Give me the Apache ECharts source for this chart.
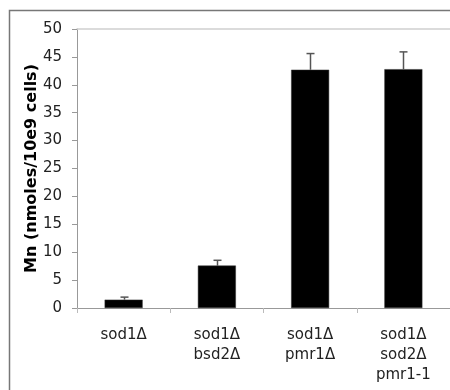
<!DOCTYPE html>
<html><head><meta charset="utf-8">
<script src="https://cdn.jsdelivr.net/npm/echarts@6/dist/echarts.min.js"></script>
<style>html,body{margin:0;padding:0;background:#fff}#c{width:450px;height:390px}</style>
</head><body><div id="c"></div>
<script>
var categories = ['sod1Δ', 'sod1Δ\nbsd2Δ', 'sod1Δ\npmr1Δ', 'sod1Δ\nsod2Δ\npmr1-1'];
var values = [1.5, 7.6, 42.7, 42.8];
var errors = [0.45, 0.95, 2.9, 3.1];
var yTicks = [0, 5, 10, 15, 20, 25, 30, 35, 40, 45, 50];
var yTitle = 'Mn (nmoles/10e9 cells)';

var font = 'DejaVu Sans, Verdana, sans-serif';
var chart = echarts.init(document.getElementById('c'), null, {renderer: 'canvas'});
chart.setOption({
  animation: false,
  backgroundColor: '#fff',
  graphic: [{
    type: 'rect', shape: {x: 9.5, y: 10.5, width: 460, height: 400},
    style: {fill: 'none', stroke: '#777', lineWidth: 1.5}, silent: true, z: 100
  }],
  grid: {left: 77, right: -5, top: 29, bottom: 82, containLabel: false},
  xAxis: [{
    type: 'category', data: categories, position: 'bottom',
    axisLine: {lineStyle: {color: '#999', width: 1}},
    axisTick: {show: true, length: 5, lineStyle: {color: '#bbb'}},
    axisLabel: {color: '#222', fontFamily: font, fontSize: 15, lineHeight: 20, margin: 17, interval: 0}
  }, {
    type: 'category', data: categories, position: 'top',
    axisLine: {lineStyle: {color: '#d0d0d0', width: 1.5}},
    axisTick: {show: false}, axisLabel: {show: false}
  }],
  yAxis: {
    type: 'value', min: yTicks[0], max: yTicks[yTicks.length - 1], interval: 5,
    name: yTitle, nameLocation: 'middle', nameGap: 37, nameRotate: 90, nameMoveOverlap: false,
    nameTextStyle: {fontFamily: font, fontSize: 16, fontWeight: 'bold', color: '#000'},
    axisLine: {show: true, lineStyle: {color: '#999', width: 1}},
    axisTick: {show: true, length: 5, lineStyle: {color: '#999'}},
    axisLabel: {color: '#222', fontFamily: font, fontSize: 15, margin: 15},
    splitLine: {show: false}
  },
  series: [{
    type: 'bar', data: values, barWidth: 38, xAxisIndex: 0,
    itemStyle: {color: '#000', borderColor: '#333', borderWidth: 0.5}
  }, {
    type: 'custom', xAxisIndex: 0, z: 1,
    data: values.map(function (v, i) { return [i, v, v + errors[i]]; }),
    renderItem: function (params, api) {
      var base = api.coord([api.value(0), api.value(1)]);
      var top = api.coord([api.value(0), api.value(2)]);
      var x = Math.round(base[0]) + 0.5;
      var style = {stroke: '#555', lineWidth: 1.5};
      return {type: 'group', children: [
        {type: 'line', shape: {x1: x, y1: base[1], x2: x, y2: top[1]}, style: style},
        {type: 'line', shape: {x1: x - 4, y1: top[1], x2: x + 4, y2: top[1]}, style: style}
      ]};
    }
  }]
});
</script></body></html>
